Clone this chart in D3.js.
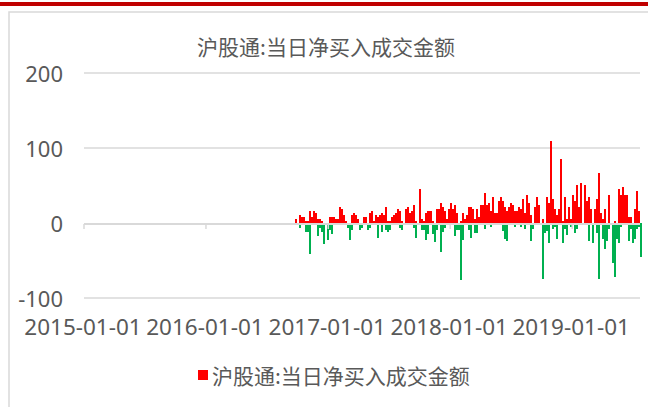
<!DOCTYPE html>
<html>
<head>
<meta charset="utf-8">
<script src="https://cdn.jsdelivr.net/npm/d3@7"></script>
<style>
  body { margin: 0; background: #fff; }
  svg { display: block; }
</style>
</head>
<body>
<svg id="chart" width="648" height="407"></svg>
<script>

var TITULO = '沪股通:当日净买入成交金额';

// ejes
var fechaInicioEje = '2015-01-01';
var fechaFinEje = '2019-07-26';
var etiquetasX = ['2015-01-01', '2016-01-01', '2017-01-01', '2018-01-01', '2019-01-01'];
var ticksY = [200, 100, 0, -100];

// cada columna cubre 6 dias desde la fecha de inicio
var fechaInicioSerie = '2016-09-27';
var diasPorColumna = 6;

// maximo positivo de cada columna (亿元)
var compraNeta = [
  5,0,11,8,8,3,3,16,8,16, 13,5,5,3,0,0,0,8,8,8,
  5,5,21,19,11,3,0,0,11,13, 11,5,0,0,8,8,0,13,16,3,
  11,8,11,13,11,21,3,3,8,11, 13,19,16,3,0,19,21,13,16,24,
  3,0,45,5,3,13,16,16,3,0, 19,19,27,21,16,5,19,27,19,24,
  13,0,3,13,5,11,21,21,19,5, 19,8,24,24,40,24,27,16,35,13,
  13,29,35,29,21,16,21,27,24,16, 16,21,19,32,13,37,27,11,0,21,
  35,24,0,5,0,35,27,109,32,19, 11,19,85,3,35,5,21,5,37,29,
  51,21,53,0,51,29,35,19,0,19, 32,67,13,5,19,0,37,0,0,3,
  0,45,37,48,37,37,8,8,0,19, 43,16,0
];

// minimo negativo de cada columna
var ventaNeta = [
  0,0,-4,0,0,-9,-9,-38,0,0, 0,-15,-4,-9,-25,0,-20,-7,-12,0,
  0,0,0,0,0,0,-4,-20,-7,0, 0,0,-7,-4,0,0,-7,-4,0,0,
  0,-17,0,-9,0,-7,-9,-7,0,0, 0,0,-4,-7,0,0,0,0,0,-4,
  -17,0,0,-7,-7,-20,-12,0,-12,-23, -7,0,-36,-9,-4,0,0,0,0,-15,
  -7,-7,-73,-20,0,0,-7,-17,0,-11, -11,0,0,0,-5,0,0,-3,0,0,
  0,0,0,-8,-19,-21,0,0,0,-3, 0,0,-3,0,-5,0,0,-21,-5,0,
  0,0,0,-72,-11,-8,-24,0,-5,-3, -19,0,0,-24,-5,-13,0,-3,0,-11,
  -5,0,0,0,0,0,-21,0,-24,0, -11,-72,0,-19,-32,-21,-5,0,-51,-69,
  -19,-24,-3,0,0,0,-21,-5,-24,-19, -5,-3,-43
];

var ROJO = '#ff0000';
var VERDE = '#00b050';
var GRIS_TEXTO = '#595959';
var GRIS_LINEA = '#d9d9d9';

var svg = d3.select('#chart');
var parse = d3.utcParse('%Y-%m-%d');

var x = d3.scaleUtc()
  .domain([parse(fechaInicioEje), parse(fechaFinEje)])
  .range([83, 640]);

var y = d3.scaleLinear()
  .domain([-100, 200])
  .range([298, 73]);

function columnas(valores){
  var inicio = parse(fechaInicioSerie);
  return valores.map(function(v, ix){
    var d0 = d3.utcDay.offset(inicio, ix * diasPorColumna);
    var d1 = d3.utcDay.offset(d0, diasPorColumna);
    return { d0: d0, d1: d1, valor: v };
  }).filter(function(d){ return d.valor !== 0; });
}

function dibujarMarco(){
  svg.append('rect')
    .attr('x', 0).attr('y', 2)
    .attr('width', 648).attr('height', 4)
    .attr('fill', '#c00000');

  svg.append('path')
    .attr('d', 'M9,407 V12 H648')
    .attr('fill', 'none')
    .attr('stroke', GRIS_LINEA)
    .attr('stroke-width', 1.5);

  svg.append('text')
    .attr('x', 326)
    .attr('y', 46)
    .attr('text-anchor', 'middle')
    .attr('dominant-baseline', 'central')
    .attr('font-family', '"Noto Sans CJK SC", sans-serif')
    .attr('font-size', 21)
    .attr('fill', GRIS_TEXTO)
    .text(TITULO);
}

function dibujarEjes(){
  var rejilla = svg.append('g');
  rejilla.selectAll('line').data(ticksY.filter(function(v){ return v !== 0; })).enter().append('line')
    .attr('x1', 84).attr('x2', 640)
    .attr('y1', function(d){ return y(d); })
    .attr('y2', function(d){ return y(d); })
    .attr('stroke', GRIS_LINEA)
    .attr('stroke-width', 1.5);

  svg.append('g').selectAll('text').data(ticksY).enter().append('text')
    .attr('x', 63)
    .attr('y', function(d){ return y(d); })
    .attr('text-anchor', 'end')
    .attr('dominant-baseline', 'central')
    .attr('font-family', '"Noto Sans", sans-serif')
    .attr('font-size', 22)
    .attr('fill', GRIS_TEXTO)
    .text(function(d){ return d; });

  svg.append('g').selectAll('text').data(etiquetasX).enter().append('text')
    .attr('x', function(d){ return x(parse(d)); })
    .attr('y', 326)
    .attr('text-anchor', 'middle')
    .attr('dominant-baseline', 'central')
    .attr('font-family', '"Noto Sans", sans-serif')
    .attr('font-size', 22.5)
    .attr('fill', GRIS_TEXTO)
    .text(function(d){ return d; });
}

function dibujarBarras(){
  var barras = svg.append('g').attr('shape-rendering', 'crispEdges');

  barras.selectAll('rect.pos').data(columnas(compraNeta)).enter().append('rect')
    .attr('class', 'pos')
    .attr('x', function(d){ return x(d.d0); })
    .attr('width', function(d){ return x(d.d1) - x(d.d0); })
    .attr('y', function(d){ return y(d.valor); })
    .attr('height', function(d){ return y(0) - y(d.valor); })
    .attr('fill', ROJO);

  barras.selectAll('rect.neg').data(columnas(ventaNeta)).enter().append('rect')
    .attr('class', 'neg')
    .attr('x', function(d){ return x(d.d0); })
    .attr('width', function(d){ return x(d.d1) - x(d.d0); })
    .attr('y', y(0))
    .attr('height', function(d){ return y(d.valor) - y(0) + 2; })
    .attr('fill', VERDE);

  // linea del eje horizontal y sus marcas
  svg.append('line')
    .attr('x1', 84).attr('x2', 640)
    .attr('y1', y(0) + 1).attr('y2', y(0) + 1)
    .attr('stroke', GRIS_LINEA)
    .attr('stroke-width', 2);

  svg.append('g').selectAll('line').data(etiquetasX).enter().append('line')
    .attr('x1', function(d){ return x(parse(d)) + 1; })
    .attr('x2', function(d){ return x(parse(d)) + 1; })
    .attr('y1', y(0) + 1)
    .attr('y2', y(0) + 6)
    .attr('stroke', GRIS_LINEA)
    .attr('stroke-width', 1.5);
}

function dibujarLeyenda(){
  var g = svg.append('g').attr('transform', 'translate(198,375)');
  g.append('rect')
    .attr('x', 0).attr('y', -5)
    .attr('width', 10).attr('height', 10)
    .attr('fill', ROJO);
  g.append('text')
    .attr('x', 14)
    .attr('y', 0)
    .attr('dominant-baseline', 'central')
    .attr('font-family', '"Noto Sans CJK SC", sans-serif')
    .attr('font-size', 21)
    .attr('fill', GRIS_TEXTO)
    .text(TITULO);
}

dibujarMarco();
dibujarEjes();
dibujarBarras();
dibujarLeyenda();

</script>
</body>
</html>
